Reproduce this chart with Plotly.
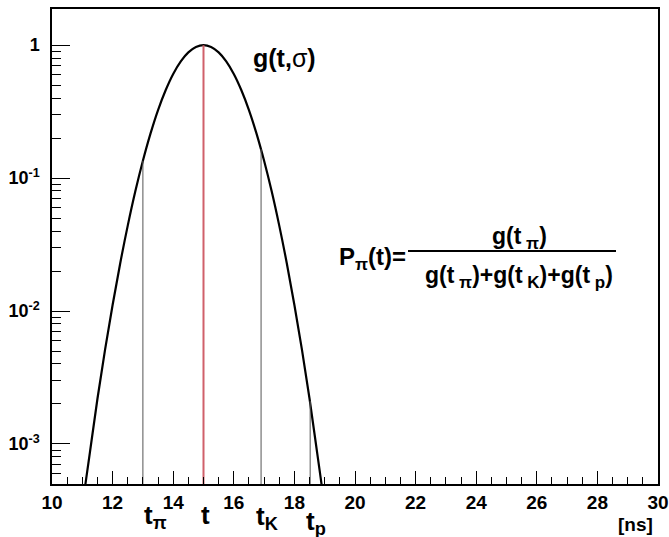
import plotly.graph_objects as go

# Gaussian curve values (log scale)
t_vals = [10.5, 11.0, 11.25, 11.5, 11.75, 12.0, 12.25, 12.5, 12.75, 13.0, 13.25, 13.5, 13.75, 14.0, 14.25, 14.5, 14.75, 15.0,
          15.25, 15.5, 15.75, 16.0, 16.25, 16.5, 16.75, 17.0, 17.25, 17.5, 17.75, 18.0, 18.25, 18.5, 18.75, 19.0, 19.5]
g_vals = [4.0e-5, 3.35e-4, 8.6e-4, 2.19e-3, 5.1e-3, 1.11e-2, 2.28e-2, 4.39e-2, 7.95e-2, 0.135, 0.216, 0.325, 0.458, 0.607, 0.755, 0.882, 0.969, 1.0,
          0.969, 0.882, 0.755, 0.607, 0.458, 0.325, 0.216, 0.135, 7.95e-2, 4.39e-2, 2.28e-2, 1.11e-2, 5.1e-3, 2.19e-3, 8.6e-4, 3.35e-4, 4.0e-5]

# Marker lines: t_pi, t, t_K, t_p
mark_t = [13.0, 15.0, 16.9, 18.52]
mark_g = [0.135, 1.0, 0.165, 0.0021]
mark_color = ["#555555", "#d0606a", "#555555", "#555555"]
mark_width = [1, 2, 1, 1]

x_ticks = [10, 12, 14, 16, 18, 20, 22, 24, 26, 28, 30]
y_tickvals = [1e-3, 1e-2, 1e-1, 1]
y_ticktext = ["<b>10<sup>-3</sup></b>", "<b>10<sup>-2</sup></b>", "<b>10<sup>-1</sup></b>", "<b>1</b>"]

y_min, y_max = 5.0e-4, 1.87
FONT = "Liberation Sans, Arial, Helvetica, sans-serif"

fig = go.Figure()
fig.add_trace(go.Scatter(x=t_vals, y=g_vals, mode="lines", line=dict(color="black", width=2.2, shape="spline"),
                         showlegend=False, hoverinfo="skip"))
for tx, gy, c, w in zip(mark_t, mark_g, mark_color, mark_width):
    fig.add_trace(go.Scatter(x=[tx, tx], y=[y_min, gy], mode="lines", line=dict(color=c, width=w),
                             showlegend=False, hoverinfo="skip"))

L, R, T, B = 52, 11, 9, 53
W, H = 669, 537
PW, PH = W - L - R, H - T - B


def px(x):
    return (x - L) / PW


def py(y):
    return (H - B - y) / PH


SUB = '<span style="font-size:17px">'
ann = []
ann.append(dict(x=px(284), y=py(58), text="<b>g(t,</b>σ<b>)</b>", font=dict(size=25)))
ann.append(dict(x=px(408), y=py(258), text=f"<b>P<sub>{SUB}π</span></sub>(t)=</b>", font=dict(size=24), xanchor="right"))
ann.append(dict(x=px(519), y=py(238), text=f"<b>g(t<sub>{SUB} π</span></sub>)</b>", font=dict(size=23)))
ann.append(dict(x=px(519), y=py(277),
                text=f"<b>g(t<sub>{SUB} π</span></sub>)+g(t<sub>{SUB} K</span></sub>)+g(t<sub>{SUB} p</span></sub>)</b>",
                font=dict(size=23)))
ann.append(dict(x=px(142), y=py(516), text="<b>t<sub>π</sub></b>", font=dict(size=26), xanchor="left"))
ann.append(dict(x=px(205.5), y=py(515), text="<b>t</b>", font=dict(size=26)))
ann.append(dict(x=px(254), y=py(517), text="<b>t<sub>K</sub></b>", font=dict(size=26), xanchor="left"))
ann.append(dict(x=px(304), y=py(522), text="<b>t<sub>p</sub></b>", font=dict(size=26), xanchor="left"))
ann.append(dict(x=px(635), y=py(524), text="<b>[ns]</b>", font=dict(size=19)))
for a in ann:
    a.update(xref="paper", yref="paper", showarrow=False)
    a.setdefault("xanchor", "center")
    a["yanchor"] = "middle"
    a["font"]["family"] = FONT
    a["font"]["color"] = "black"

fig.update_layout(
    width=W, height=H,
    margin=dict(l=L, r=R, t=T, b=B),
    paper_bgcolor="white", plot_bgcolor="white",
    annotations=ann,
    shapes=[dict(type="line", xref="paper", yref="paper", x0=px(408), x1=px(616), y0=py(251), y1=py(251),
                 line=dict(color="black", width=2))],
    font=dict(family=FONT, color="black"),
)
fig.update_xaxes(range=[10, 30], tickvals=x_ticks, ticktext=[f"<b>{v}</b>" for v in x_ticks],
                 ticks="inside", ticklen=13, tickwidth=1, tickcolor="black", automargin=False,
                 minor=dict(ticks="inside", ticklen=7, dtick=0.5, tickcolor="black", tickwidth=1),
                 showline=True, linecolor="black", linewidth=2, mirror=True, showgrid=False, zeroline=False,
                 tickfont=dict(size=19, family=FONT, color="black"))
fig.update_yaxes(type="log", range=[-3.301, 0.272], tickvals=y_tickvals, ticktext=y_ticktext,
                 ticks="inside", ticklen=18, tickwidth=1, tickcolor="black", ticklabelstandoff=7, automargin=False,
                 minor=dict(ticks="inside", ticklen=9, tickcolor="black", tickwidth=1, dtick="D1", showgrid=False),
                 showline=True, linecolor="black", linewidth=1.5, mirror=True, showgrid=False, zeroline=False,
                 tickfont=dict(size=18, family=FONT, color="black"))

fig.write_html("out.html", config={"displayModeBar": False},
               post_script="document.body.style.margin='0';document.body.style.padding='0';")
